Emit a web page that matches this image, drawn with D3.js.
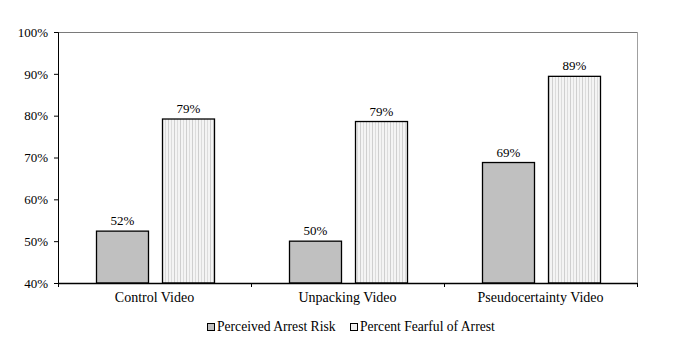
<!DOCTYPE html>
<html><head><meta charset="utf-8">
<script src="https://cdn.jsdelivr.net/npm/d3@7"></script>
<style>body{margin:0;background:#fff}svg{display:block}</style>
</head><body>
<svg id="c" width="676" height="342"></svg>
<script>
const categories = ["Control Video", "Unpacking Video", "Pseudocertainty Video"];
const seriesNames = ["Perceived Arrest Risk", "Percent Fearful of Arrest"];
const perceivedRisk = [52.4, 50.0, 68.8];
const percentFearful = [79.2, 78.6, 89.4];
const valueLabels = [["52%", "79%"], ["50%", "79%"], ["69%", "89%"]];
const yTicks = [40, 50, 60, 70, 80, 90, 100];

const FONT = "font-family:'Liberation Serif'";
const svg = d3.select("#c");
const m = {l: 58, r: 637, t: 32, b: 283};
const defs = svg.append("defs");
const pat = defs.append("pattern").attr("id", "stripes").attr("patternUnits", "userSpaceOnUse")
  .attr("width", 6).attr("height", 4);
pat.append("rect").attr("width", 6).attr("height", 4).attr("fill", "#f4f4f4");
pat.append("rect").attr("x", 0).attr("width", 1).attr("height", 4).attr("fill", "#cfcfcf");
pat.append("rect").attr("x", 3).attr("width", 1).attr("height", 4).attr("fill", "#dcdcdc");

const x0 = d3.scaleBand().domain(categories).range([m.l, m.r]);
const y = d3.scaleLinear().domain([40, 100]).range([m.b, m.t]);
const barW = 52, gap = 14;

// plot border (top, right)
svg.append("line").attr("x1", m.l).attr("x2", m.r).attr("y1", m.t + 0.5).attr("y2", m.t + 0.5).attr("stroke", "#7a7a7a");
svg.append("line").attr("x1", m.r + 0.5).attr("x2", m.r + 0.5).attr("y1", m.t).attr("y2", m.b).attr("stroke", "#a0a0a0");

const data = categories.map((c, i) => ({c, v: [perceivedRisk[i], percentFearful[i]], lab: valueLabels[i]}));
const g = svg.append("g");
data.forEach(d => {
  const cx = x0(d.c) + x0.bandwidth() / 2;
  [0, 1].forEach(s => {
    const xl = s === 0 ? cx - gap / 2 - barW : cx + gap / 2;
    g.append("rect").attr("x", Math.round(xl) + 0.5).attr("y", y(d.v[s])).attr("width", barW)
      .attr("height", y(40) - y(d.v[s]))
      .attr("fill", s === 0 ? "#c0c0c0" : "url(#stripes)").attr("stroke", "#000").attr("stroke-width", 1.3);
    g.append("text").attr("x", Math.round(xl) + barW / 2 + 0.5).attr("y", y(d.v[s]) - 6)
      .attr("text-anchor", "middle").attr("style", FONT + ";font-size:13px").text(d.lab[s]);
  });
});

// axes
const yAxis = svg.append("g").attr("transform", `translate(${m.l},0)`)
  .call(d3.axisLeft(y).tickValues(yTicks).tickSize(4).tickFormat(d => d + "%"));
yAxis.select(".domain").attr("stroke", "#000");
yAxis.selectAll(".tick line").attr("stroke", "#000");
yAxis.selectAll("text").attr("style", FONT + ";font-size:13px").attr("fill", "#000").attr("dx", -3);

const xAxis = svg.append("g").attr("transform", `translate(0,${m.b})`)
  .call(d3.axisBottom(x0).tickSize(0).tickPadding(9));
xAxis.select(".domain").attr("stroke", "#000").attr("stroke-width", 1.3);
xAxis.selectAll("text").attr("style", FONT + ";font-size:14px").attr("fill", "#000");
// category separator ticks
const sepTicks = [m.l, x0(categories[1]), x0(categories[2]), m.r];
svg.selectAll(".sep").data(sepTicks).enter().append("line")
  .attr("x1", d => d + 0.5).attr("x2", d => d + 0.5).attr("y1", m.b).attr("y2", m.b + 4).attr("stroke", "#000");

// legend
const leg = svg.append("g");
const legX = [207, 350];
seriesNames.forEach((n, i) => {
  leg.append("rect").attr("x", legX[i] + 0.5).attr("y", 323.5).attr("width", 7).attr("height", 7)
    .attr("fill", i === 0 ? "#c0c0c0" : "#f0f0f0").attr("stroke", "#000").attr("stroke-width", 1);
  leg.append("text").attr("x", legX[i] + 10).attr("y", 331).attr("style", FONT + ";font-size:13.6px").attr("fill", "#000").text(n);
});
</script>
</body></html>
